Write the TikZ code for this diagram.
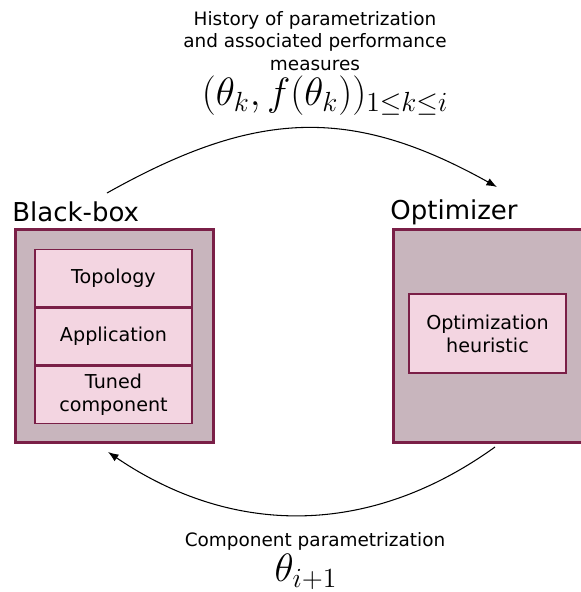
\documentclass[tikz,border=0pt]{standalone}
\usepackage{fix-cm}
\usepackage{fontspec}
\setmainfont{DejaVu Sans}
\usetikzlibrary{positioning,arrows.meta}
\definecolor{boxborder}{HTML}{7A1F47}
\definecolor{outerfill}{HTML}{C8B5BD}
\definecolor{innerfill}{HTML}{F3D5E1}
\newcommand\txtsize{\fontsize{10.5}{13}\selectfont}
\newcommand\boxtxtsize{\fontsize{10.9}{13}\selectfont}
\newcommand\titlesize{\fontsize{14.8}{17}\selectfont}
\newcommand\mathsize{\fontsize{22.5}{26}\selectfont}
\tikzset{
  outerbox/.style={draw=boxborder, fill=outerfill, line width=1.7pt,
    minimum width=3.96cm, minimum height=4.26cm, inner sep=0pt},
  innerbox/.style={draw=boxborder, fill=innerfill, line width=0.8pt,
    minimum width=3.14cm, minimum height=1.14cm, inner sep=0pt,
    align=center, font=\boxtxtsize},
  boxtitle/.style={anchor=west, inner sep=0pt, font=\titlesize},
  caption/.style={align=center, inner sep=0pt, font=\txtsize},
}
\begin{document}
\begin{tikzpicture}[x=0.02cm, y=-0.02cm, >={Latex[length=6pt,width=4.5pt]}]
\useasboundingbox (0,0) rectangle (581,592);
% black-box
\node[outerbox] (blackbox) at (114.5,336) {};
\node[innerbox] (app) at (113.5,336.5) {Application};
\node[innerbox, above=0pt of app] (topo) {Topology};
\node[innerbox, below=0pt of app] (tuned) {Tuned\\component};
\node[boxtitle] (bbtitle) at (12,212) {Black-box};
% optimizer
\node[outerbox] (optim) at (492.5,336) {};
\node[innerbox, minimum height=1.58cm] (heur) at (487.5,333.5) {Optimization\\heuristic};
\node[boxtitle] (optitle) at (390,212) {Optimizer};
% exchanged data
\node[caption] (history) at (315,41) {History of parametrization\\and associated performance\\measures};
\node[inner sep=0pt, font=\mathsize] (histmath) at (325,96) {$(\theta_k, f(\theta_k))_{1\leq k\leq i}$};
\node[caption] (param) at (315,541) {Component parametrization};
\node[inner sep=0pt, font=\mathsize] (parammath) at (306,572) {$\theta_{i+1}$};
\coordinate (histstart) at (107,193);
\coordinate (histend) at (497,187);
\coordinate (paramstart) at (495,447);
\coordinate (paramend) at (108,452);
\draw[->, line width=0.6pt] (histstart) .. controls (255,110) and (350,105) .. (histend);
\draw[->, line width=0.6pt] (paramstart) .. controls (370,537) and (233,537) .. (paramend);
\end{tikzpicture}
\end{document}
